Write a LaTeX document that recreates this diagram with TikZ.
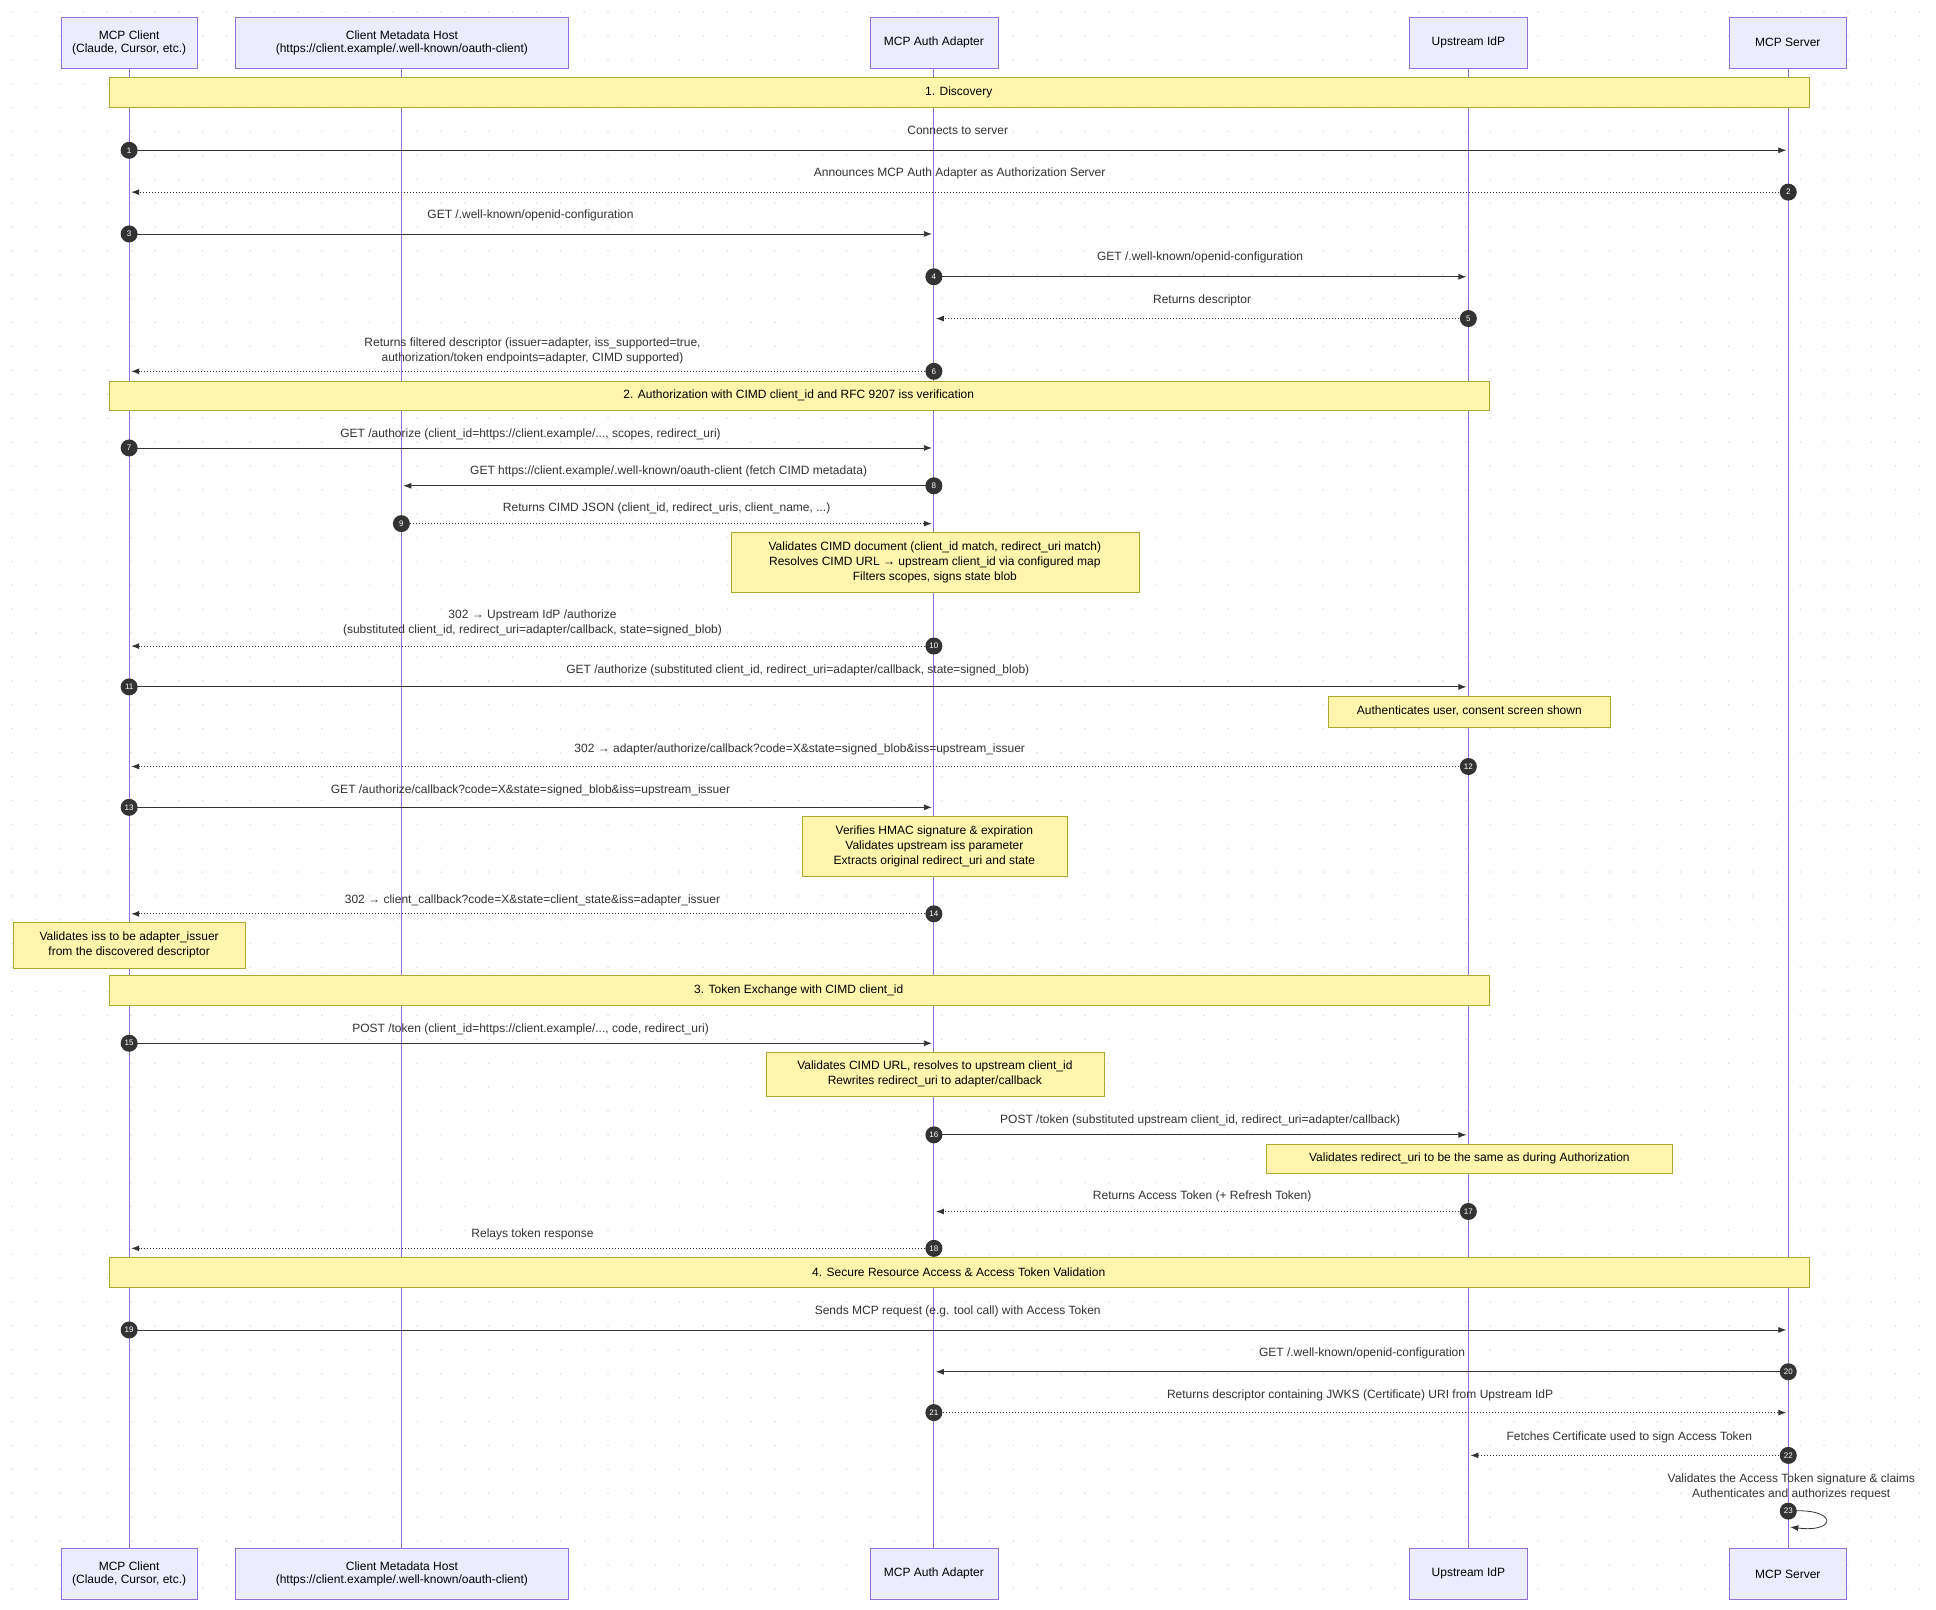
\documentclass[tikz,border=0pt]{standalone}
\usepackage{fontspec}
\setmainfont{Liberation Sans}
\usetikzlibrary{arrows.meta}
\definecolor{life}{HTML}{9370DB}
\definecolor{actf}{HTML}{ECECFF}
\definecolor{notef}{HTML}{FFF5AD}
\definecolor{noted}{HTML}{AAAA33}
\definecolor{ink}{HTML}{333333}
\tikzset{
 actor/.style={draw=life,fill=actf,align=center,font=\fontsize{12}{13}\selectfont,inner sep=0pt,minimum height=51pt},
 note/.style={draw=noted,fill=notef,align=center,font=\fontsize{12}{15}\selectfont,inner sep=0pt},
 lbl/.style={font=\fontsize{12}{15}\selectfont,text=ink,align=center},
 num/.style={circle,fill=ink,text=white,inner sep=0pt,minimum size=17pt,font=\fontsize{8}{8}\selectfont},
 sol/.style={draw=ink,line width=0.8pt,-{Latex[length=8pt,width=6pt]}},
 dot/.style={draw=ink,line width=1pt,dotted,-{Latex[length=8pt,width=6pt]}},
}
\newcommand{\msg}[7]{% from x, to x, y, num, style, label y, label
 \coordinate (s#4) at (#1,#3); \coordinate (e#4) at (#2,#3);
 \draw[#5] (s#4) -- (e#4);
 \node[num] (n#4) at (s#4) {#4};
 \node[lbl] (l#4) at ({(#1+#2)/2},#6) {#7};}
\begin{document}
\begin{tikzpicture}[x=0.9935pt,y=-0.9955pt]
\useasboundingbox (0,0) rectangle (1948.7,1617.3);
\fill[white] (0,0) rectangle (1948.7,1617.3);
\foreach \i in {0,...,80}{\foreach \j in {0,...,66}{\fill[black!12] (12+\i*24,12+\j*24) circle (0.9);}}
% lifelines
\foreach \n/\x in {a/130,b/404,c/940,d/1478,e/1800}{\draw[life,line width=1pt] (\x,68) -- (\x,1556);}
% actors
\foreach \p/\y in {t/43,u/1581}{
\node[actor,minimum width=136pt] (a\p) at (130,\y) {MCP Client\\(Claude, Cursor, etc.)};
\node[actor,minimum width=333pt] (b\p) at (404.5,\y) {Client Metadata Host\\(https://client.example/.well-known/oauth-client)};
\node[actor,minimum width=128pt] (c\p) at (940,\y) {MCP Auth Adapter};
\node[actor,minimum width=118pt] (d\p) at (1478,\y) {Upstream IdP};
\node[actor,minimum width=117pt] (e\p) at (1799.5,\y) {MCP Server};}
% bands
\node[note,minimum width=1700pt,minimum height=30pt] (g1) at (965,92.5) {1. Discovery};
\node[note,minimum width=1380pt,minimum height=29pt] (g2) at (804,397.5) {2. Authorization with CIMD client\_id and RFC 9207 iss verification};
\node[note,minimum width=1380pt,minimum height=30pt] (g3) at (804,995) {3. Token Exchange with CIMD client\_id};
\node[note,minimum width=1700pt,minimum height=30pt] (g4) at (965,1278) {4. Secure Resource Access \& Access Token Validation};
% messages
\msg{130}{1798}{151}{1}{sol}{131}{Connects to server}
\msg{1800}{132}{193}{2}{dot}{174}{Announces MCP Auth Adapter as Authorization Server}
\msg{130}{938}{235}{3}{sol}{216}{GET /.well-known/openid-configuration}
\msg{940}{1476}{278}{4}{sol}{259}{GET /.well-known/openid-configuration}
\msg{1478}{942}{320}{5}{dot}{302}{Returns descriptor}
\msg{940}{132}{373}{6}{dot}{352}{Returns filtered descriptor (issuer=adapter, iss\_supported=true,\\authorization/token endpoints=adapter, CIMD supported)}
\msg{130}{938}{450}{7}{sol}{436}{GET /authorize (client\_id=https://client.example/..., scopes, redirect\_uri)}
\msg{940}{406}{488}{8}{sol}{474}{GET https://client.example/.well-known/oauth-client (fetch CIMD metadata)}
\msg{404}{938}{526}{9}{dot}{511}{Returns CIMD JSON (client\_id, redirect\_uris, client\_name, ...)}
\node[note,minimum width=408pt,minimum height=60pt] (m1) at (941,565) {Validates CIMD document (client\_id match, redirect\_uri match)\\Resolves CIMD URL → upstream client\_id via configured map\\Filters scopes, signs state blob};
\msg{940}{132}{649}{10}{dot}{625.5}{302 → Upstream IdP /authorize\\(substituted client\_id, redirect\_uri=adapter/callback, state=signed\_blob)}
\msg{130}{1476}{690}{11}{sol}{673}{GET /authorize (substituted client\_id, redirect\_uri=adapter/callback, state=signed\_blob)}
\node[note,minimum width=282pt,minimum height=31pt] (m2) at (1479,714.5) {Authenticates user, consent screen shown};
\msg{1478}{132}{770}{12}{dot}{753}{302 → adapter/authorize/callback?code=X\&state=signed\_blob\&iss=upstream\_issuer}
\msg{130}{938}{811}{13}{sol}{794}{GET /authorize/callback?code=X\&state=signed\_blob\&iss=upstream\_issuer}
\node[note,minimum width=265pt,minimum height=60pt] (m3) at (940.5,850) {Verifies HMAC signature \& expiration\\Validates upstream iss parameter\\Extracts original redirect\_uri and state};
\msg{940}{132}{918}{14}{dot}{904}{302 → client\_callback?code=X\&state=client\_state\&iss=adapter\_issuer}
\node[note,minimum width=232pt,minimum height=46pt] (m4) at (130,949) {Validates iss to be adapter\_issuer\\from the discovered descriptor};
\msg{130}{938}{1048}{15}{sol}{1034}{POST /token (client\_id=https://client.example/..., code, redirect\_uri)}
\node[note,minimum width=338pt,minimum height=44pt] (m5) at (941,1079) {Validates CIMD URL, resolves to upstream client\_id\\Rewrites redirect\_uri to adapter/callback};
\msg{940}{1476}{1140}{16}{sol}{1125}{POST /token (substituted upstream client\_id, redirect\_uri=adapter/callback)}
\node[note,minimum width=406pt,minimum height=29pt] (m6) at (1479,1163.5) {Validates redirect\_uri to be the same as during Authorization};
\msg{1478}{942}{1217}{17}{dot}{1202}{Returns Access Token (+ Refresh Token)}
\msg{940}{132}{1254}{18}{dot}{1240}{Relays token response}
\msg{130}{1798}{1336}{19}{sol}{1317}{Sends MCP request (e.g. tool call) with Access Token}
\msg{1800}{942}{1378}{20}{sol}{1360}{GET /.well-known/openid-configuration}
\msg{940}{1798}{1419}{21}{dot}{1402}{Returns descriptor containing JWKS (Certificate) URI from Upstream IdP}
\msg{1800}{1480}{1462}{22}{dot}{1444}{Fetches Certificate used to sign Access Token}
\coordinate (s23) at (1800,1518); \coordinate (e23) at (1802,1534);
\draw[sol] (s23) .. controls (1850,1514) and (1850,1540) .. (e23);
\node[num] (n23) at (s23) {23};
\node[lbl] (l23) at (1803,1494) {Validates the Access Token signature \& claims\\Authenticates and authorizes request};
\end{tikzpicture}
\end{document}
